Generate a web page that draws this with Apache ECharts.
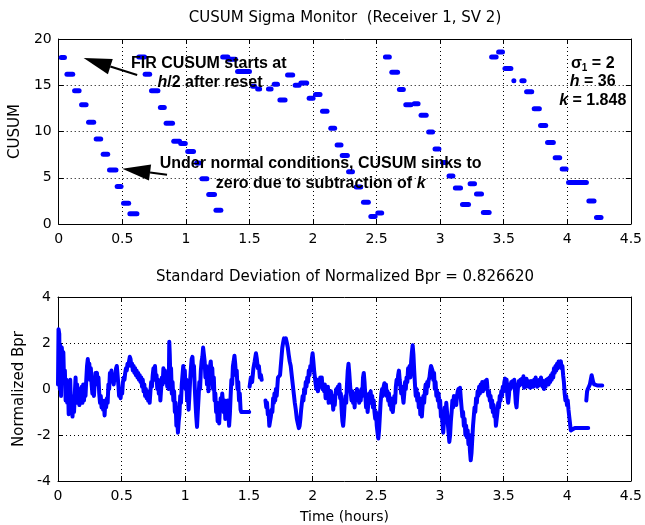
<!DOCTYPE html>
<html><head><meta charset="utf-8">
<script src="https://cdn.jsdelivr.net/npm/echarts@6/dist/echarts.min.js"></script>
<style>html,body{margin:0;padding:0;background:#fff}#c{width:645px;height:525px}</style>
</head><body><div id="c"></div>
<script>
// ---------- data ----------
const xTickValues = [0, 0.5, 1, 1.5, 2, 2.5, 3, 3.5, 4, 4.5];
const cusumTicks = [0, 5, 10, 15, 20];
const bprTicks = [-4, -2, 0, 2, 4];

// CUSUM runs: start time, end time (hours), value
const cusumStart = [0.00,0.045,0.105,0.16,0.215,0.275,0.33,0.38,0.44,0.49,0.54,
  0.61,0.66,0.71,0.78,0.825,0.885,0.94,0.995,1.065,1.107,1.16,1.217,
  1.27,1.314,1.387,1.505,1.545,1.63,1.675,1.72,1.78,1.84,1.885,1.95,2.0,2.055,2.12,2.17,2.21,2.26,2.32,2.377,2.435,2.49,
  2.55,2.60,2.66,2.71,2.776,2.83,2.89,2.94,3.0,3.05,3.10,3.156,3.216,3.266,3.32,
  3.385,3.44,3.49,3.56,3.623,3.66,3.72,3.77,3.825,3.885,3.94,3.99,4.15,4.21];
const cusumEnd = [0.065,0.13,0.18,0.235,0.295,0.35,0.405,0.47,0.51,0.57,0.635,
  0.695,0.735,0.80,0.85,0.915,0.97,1.015,1.08,1.125,1.185,1.245,1.295,
  1.35,1.41,1.52,1.56,1.60,1.69,1.74,1.80,1.86,1.91,1.97,2.02,2.075,2.13,2.19,2.24,2.29,2.33,2.395,2.455,2.508,2.56,
  2.62,2.685,2.73,2.79,2.846,2.91,2.96,3.01,3.065,3.12,3.18,3.243,3.29,3.345,3.405,
  3.46,3.51,3.576,3.575,3.68,3.74,3.80,3.85,3.91,3.96,4.01,4.17,4.23,4.285];
const cusumValue = [18.0,16.2,14.4,12.9,11.0,9.2,7.55,5.85,4.05,2.25,1.1,
  18.05,16.2,14.4,12.6,10.9,8.95,8.7,7.85,6.6,4.9,3.2,1.5,
  18.05,17.8,16.5,14.9,14.6,14.6,15.1,13.4,16.1,15.0,15.25,13.6,14.0,12.2,10.35,8.55,7.4,5.65,4.0,2.35,0.8,1.2,
  18.05,16.4,14.55,12.9,13.0,11.75,9.95,8.1,6.65,5.2,3.9,2.1,4.35,3.24,1.25,
  18.05,18.6,16.8,15.5,15.5,14.3,12.45,10.65,8.8,7.15,5.95,4.5,2.5,0.7];

// Normalized Bpr trace (null = gap)
const bprTime = [
0.000,0.004,0.010,0.014,0.018,0.024,0.030,0.036,0.042,0.048,0.054,0.060,0.066,0.072,0.078,0.084,0.090,0.096,0.102,0.108,
0.114,0.120,0.126,0.132,0.138,0.144,0.150,0.156,0.162,0.168,0.174,0.180,0.186,0.192,0.198,0.204,0.210,0.216,0.222,0.228,
0.234,0.240,0.246,0.252,0.258,0.264,0.270,0.276,0.282,0.288,0.294,0.300,0.306,0.312,0.318,0.324,0.330,0.336,0.342,0.348,
0.354,0.360,0.366,0.372,0.378,0.384,0.390,0.396,0.402,0.408,0.414,0.420,0.426,0.432,0.438,0.444,0.450,0.456,0.462,0.468,
0.474,0.480,0.486,0.492,0.498,0.504,0.510,0.516,0.522,0.528,0.534,0.540,0.546,0.552,0.558,0.564,0.570,0.576,0.582,0.588,
0.594,0.600,0.606,0.612,0.618,0.624,0.630,0.636,0.642,0.648,0.654,0.660,0.666,0.672,0.678,0.684,0.690,0.696,0.702,0.708,
0.714,0.720,0.726,0.732,0.738,0.744,0.750,0.756,0.762,0.768,0.774,0.780,0.786,0.792,0.798,0.804,0.810,0.816,0.822,0.828,
0.834,0.840,0.846,0.852,0.858,0.864,0.870,0.874,0.878,0.882,0.888,0.894,0.900,0.906,0.912,0.918,0.924,0.930,0.936,0.942,
0.948,0.954,0.960,0.966,0.972,0.978,0.984,0.990,0.996,1.002,1.008,1.014,1.020,1.026,1.032,1.038,1.044,1.050,1.056,1.062,
1.068,1.074,1.080,1.086,1.092,1.098,1.104,1.110,1.116,1.122,1.128,1.134,1.140,1.146,1.152,1.158,1.164,1.170,1.176,1.182,
1.188,1.194,1.200,1.206,1.212,1.218,1.224,1.230,1.236,1.242,1.248,1.254,1.260,1.266,1.272,1.278,1.284,1.290,1.296,1.302,
1.308,1.314,1.320,1.326,1.332,1.338,1.344,1.350,1.356,1.362,1.368,1.374,1.380,1.386,1.392,1.398,1.404,1.410,1.416,1.422,
1.428,1.434,1.440,1.460,1.480,1.502,
1.503,1.505,1.515,1.525,1.535,1.545,1.555,1.562,1.570,1.578,1.586,1.594,1.600,
1.615,
1.630,1.636,1.642,1.648,1.654,1.660,1.666,1.672,1.678,1.684,1.690,1.696,1.700,1.706,1.712,1.718,1.728,1.736,1.744,1.750,
1.756,1.762,1.768,1.775,1.782,1.790,1.798,1.805,1.812,1.820,1.828,1.836,1.844,1.852,1.860,1.868,1.876,1.884,1.892,1.898,
1.904,1.910,1.916,1.922,1.928,1.934,1.940,1.946,1.952,1.958,1.964,1.970,1.976,1.982,1.988,1.994,2.000,2.006,2.012,2.018,
2.024,2.030,2.036,2.042,2.048,2.054,2.060,2.066,2.072,2.078,2.084,2.090,2.096,2.102,2.108,2.114,2.120,2.126,2.132,2.138,
2.144,2.150,2.156,2.162,2.168,2.174,2.180,2.186,2.192,2.198,2.204,2.210,2.216,2.222,2.228,2.234,2.240,2.246,2.252,2.258,
2.264,2.270,2.276,2.282,2.288,2.294,2.300,2.306,2.312,2.318,2.324,2.330,2.336,2.342,2.348,2.354,2.360,2.366,2.372,2.378,
2.384,2.390,2.396,2.402,2.408,2.414,2.420,2.426,2.432,2.438,2.444,2.450,2.456,2.462,2.468,2.474,2.480,2.486,2.492,2.498,
2.504,2.510,2.516,2.522,2.528,2.534,2.540,2.546,2.552,2.558,2.564,2.570,2.576,2.582,2.588,2.594,2.600,2.606,2.612,2.618,
2.624,2.630,2.636,2.642,2.648,2.654,2.660,2.666,2.672,2.678,2.684,2.690,2.696,2.702,2.708,2.714,2.720,2.726,2.732,2.738,
2.744,2.750,2.756,2.762,2.768,2.774,2.780,2.786,2.792,2.798,2.804,2.810,2.816,2.822,2.828,2.834,2.840,2.846,2.852,2.858,
2.864,2.870,2.876,2.882,2.888,2.894,2.900,2.906,2.912,2.918,2.924,2.930,2.936,2.942,2.948,2.954,2.960,2.966,2.972,2.978,
2.984,2.990,2.996,3.002,3.008,3.014,3.020,3.026,3.032,3.038,3.044,3.050,3.056,3.062,3.068,3.074,3.080,3.086,3.092,3.098,
3.104,3.110,3.116,3.122,3.128,3.134,3.140,3.146,3.152,3.158,3.164,3.170,3.176,3.182,3.188,3.194,3.200,3.206,3.212,3.218,
3.224,3.230,3.236,3.242,3.248,3.254,3.260,3.266,3.272,3.278,3.284,3.290,3.296,3.302,3.308,3.314,3.320,3.326,3.332,3.338,
3.344,3.350,3.356,3.362,3.368,3.374,3.380,3.386,3.392,3.398,3.404,3.410,3.416,3.422,3.428,3.434,3.440,3.446,3.452,3.458,
3.464,3.470,3.476,3.482,3.488,3.494,3.500,3.506,3.512,3.518,3.524,3.530,3.536,3.542,3.548,3.554,3.560,3.566,3.572,3.578,
3.584,3.590,3.596,3.602,3.608,3.614,3.620,3.626,3.632,3.638,3.644,3.650,3.656,3.662,3.668,3.674,3.680,3.686,3.692,3.698,
3.704,3.710,3.716,3.722,3.728,3.734,3.740,3.746,3.752,3.758,3.764,3.770,3.776,3.782,3.788,3.794,3.800,3.806,3.812,3.818,
3.824,3.830,3.836,3.842,3.848,3.854,3.860,3.866,3.872,3.878,3.884,3.890,3.896,3.902,3.908,3.914,3.920,3.926,3.932,3.938,
3.944,3.950,3.956,3.962,3.968,3.974,3.980,3.986,3.992,3.998,4.004,4.010,4.016,4.022,4.028,4.034,4.060,4.100,4.140,4.165,
4.166,
4.150,4.156,4.162,4.170,4.178,4.186,4.192,4.198,4.204,4.212,4.220,4.240,4.260,4.275];
const bprValue = [
0.2,2.6,2.4,0.0,1.9,-0.3,1.8,1.2,1.6,0.3,0.8,-0.5,0.4,-0.6,0.3,-1.1,-0.2,0.4,-0.8,-0.3,
-1.2,-0.4,-1.0,-0.2,0.5,-0.6,0.2,-0.4,-0.1,-0.7,0.0,-0.3,0.1,-0.6,0.2,-0.5,0.0,-0.3,0.4,1.0,
1.3,0.9,1.1,0.4,0.9,0.2,-0.2,0.3,-0.3,0.2,0.7,0.6,0.7,0.2,0.5,-0.2,-0.6,-0.3,-0.8,-0.5,
-0.9,-0.6,-1.15,-0.5,-0.8,-0.4,-0.6,0.2,0.0,0.7,0.3,0.8,0.5,0.6,0.2,0.6,0.4,0.9,1.0,0.6,
0.2,-0.3,-0.1,-0.4,0.0,-0.2,0.3,0.5,0.4,0.7,0.9,0.8,1.1,1.0,1.2,1.4,1.3,1.0,1.1,0.8,
1.0,0.7,0.9,0.6,0.8,0.5,0.7,0.4,0.6,0.3,0.5,0.1,0.4,-0.1,0.2,-0.3,0.0,-0.4,-0.1,-0.5,
-0.2,-0.6,-0.1,0.3,0.1,0.6,0.9,0.6,1.0,0.4,0.6,0.0,0.4,-0.2,0.3,-0.5,0.0,0.5,0.2,0.9,
0.5,0.8,0.3,0.6,0.1,0.4,0.0,2.05,1.5,0.6,0.9,-0.2,0.3,-0.5,-0.1,-1.0,-0.6,-1.6,-1.2,-1.9,
-1.4,-1.1,-0.3,-0.6,0.2,0.6,1.0,0.5,0.8,0.0,0.4,-0.5,-0.2,-0.9,-0.3,0.4,0.9,1.3,1.4,0.8,
1.0,0.1,-0.6,-1.2,-1.65,-1.0,-0.4,0.3,0.0,0.8,1.2,1.4,1.8,1.5,1.2,0.5,1.0,0.2,0.7,-0.1,
0.4,1.0,1.2,0.6,0.9,0.0,0.5,-0.5,-0.2,-1.0,-0.6,-1.4,-0.8,-1.5,-0.9,-0.4,-0.8,-0.2,-0.6,-1.0,
-0.5,-1.3,-0.7,-1.2,-0.5,-1.0,-1.6,-1.1,-0.3,0.4,0.2,1.0,1.2,1.45,1.1,0.6,0.8,0.0,0.3,-0.5,
-0.2,-0.9,-1.0,-1.0,-1.0,-1.0,
null,0.1,0.5,0.3,0.9,1.2,1.55,1.3,0.9,1.0,0.5,0.6,0.4,
null,
-0.5,-0.8,-0.6,-1.1,-1.0,-1.6,-1.4,-1.2,-0.9,-1.0,-0.4,-0.6,-0.2,-0.5,0.0,-0.3,0.5,0.45,0.6,1.0,
1.4,1.8,2.0,2.2,2.1,2.2,2.0,1.8,1.5,1.2,1.0,0.6,0.2,-0.2,-0.6,-0.9,-1.3,-1.5,-1.7,-1.6,
-1.3,-0.9,-0.6,-0.3,-0.5,0.0,-0.2,0.3,0.1,0.5,0.3,0.8,0.6,1.0,0.8,1.3,1.55,1.2,0.8,0.5,
0.2,0.0,0.4,-0.1,0.3,0.1,0.5,0.2,0.5,0.0,0.2,-0.1,0.2,-0.4,0.0,-0.3,0.1,-0.6,-0.2,-0.5,
-0.1,-0.6,-0.3,-0.9,-0.4,-0.7,-0.2,0.0,-0.2,0.1,-0.1,0.2,-0.4,-0.2,-0.9,-1.4,-1.6,-1.2,-0.6,-0.3,
-0.6,0.2,0.8,1.1,0.7,0.2,-0.2,-0.5,-0.1,-0.6,-0.3,-0.8,-0.2,-0.5,0.0,-0.4,-0.1,-0.6,-0.2,-0.5,
0.0,-0.3,0.5,0.7,0.3,-0.3,-0.8,-0.4,-1.0,-0.6,-0.2,-0.5,-0.1,-0.6,-0.3,-0.8,-0.5,-1.0,-1.3,-1.0,
-1.6,-1.9,-2.15,-1.8,-1.2,-0.6,-0.2,0.0,-0.3,0.1,0.25,-0.1,0.2,-0.3,-0.1,-0.5,-0.2,-0.7,-0.4,-0.9,
-0.5,-1.0,-0.6,-0.3,-0.6,0.1,0.4,0.2,0.6,0.8,0.4,0.1,-0.2,0.1,-0.3,-0.6,-0.2,0.3,0.0,0.5,
0.3,0.9,0.6,1.0,0.5,1.2,1.6,1.9,1.5,0.8,0.2,-0.3,0.0,-0.5,-0.2,-0.8,-0.4,-1.1,-0.6,-1.2,
-0.7,-0.3,-0.6,-0.1,0.2,-0.2,0.3,0.1,0.4,0.5,0.8,1.0,1.05,0.8,0.4,0.7,0.0,0.3,-0.3,-0.1,
-0.5,-0.2,-0.8,-0.5,-1.2,-1.0,-1.5,-1.9,-1.4,-0.8,-1.2,-0.6,-1.0,-1.5,-1.9,-2.3,-2.0,-1.4,-1.0,-0.5,
-0.8,-0.3,-0.6,-0.4,-0.7,-0.3,-0.1,0.0,-0.3,0.05,-0.4,-0.8,-1.2,-1.0,-1.6,-1.3,-2.0,-1.6,-2.1,-1.8,
-2.4,-2.0,-2.7,-3.1,-2.8,-2.2,-1.6,-1.2,-0.8,-1.0,-0.4,-0.6,-0.1,-0.3,0.1,-0.2,0.2,0.0,0.3,-0.1,
0.2,0.0,0.35,0.1,0.4,0.0,-0.3,-0.1,-0.5,-0.3,-0.8,-0.5,-1.0,-0.7,-1.2,-1.0,-1.6,-1.3,-1.0,-0.6,
-0.8,-0.3,-0.5,-0.1,-0.3,0.1,-0.1,0.3,0.45,0.2,0.4,-0.3,-0.6,-0.3,0.2,0.0,0.3,0.1,0.35,0.2,
0.4,-0.1,-0.6,-0.8,-0.3,0.1,0.35,0.15,0.4,0.2,0.45,0.2,0.55,0.05,0.3,0.1,0.45,0.2,0.35,0.1,
0.3,0.05,0.35,0.15,0.3,0.1,0.4,0.2,0.5,0.3,0.1,0.35,0.15,0.4,0.2,0.5,0.3,0.1,0.35,0.0,
0.3,0.1,0.4,0.2,0.45,0.2,0.5,0.3,0.6,0.4,0.7,0.5,0.9,0.7,1.0,0.8,1.1,0.9,1.2,1.25,
1.1,1.2,0.9,1.0,0.6,0.3,-0.2,-0.5,-0.3,-0.7,-0.5,-0.9,-1.2,-1.5,-1.8,-1.75,-1.7,-1.7,-1.7,-1.7,
null,
-0.5,-0.1,0.0,0.1,0.2,0.2,0.6,0.55,0.3,0.2,0.15,0.15,0.15,0.15];

// ---------- chart ----------
const FONT = '"DejaVu Sans", Verdana, sans-serif';
const BFONT = '"Liberation Sans", Arial, Helvetica, sans-serif';
const chart = echarts.init(document.getElementById('c'), null, {renderer: 'canvas'});
const dotted = {show: true, lineStyle: {color: '#000', width: 1, type: [1, 3]}};
const axisLine = {show: true, onZero: false, lineStyle: {color: '#000', width: 1}};
const tickIn = {show: true, inside: true, length: 5, lineStyle: {color: '#000'}};
const lab = {color: '#000', fontFamily: FONT, fontSize: 14};

function xAx(gi, pos, withLabel, name) {
  return {type: 'value', gridIndex: gi, position: pos, min: 0, max: 4.5, interval: 0.5,
    axisLine, axisTick: tickIn, splitLine: withLabel ? dotted : {show: false},
    axisLabel: withLabel ? Object.assign({margin: 8}, lab) : {show: false},
    name: name || '', nameLocation: 'middle', nameGap: 29,
    nameTextStyle: {color: '#000', fontFamily: FONT, fontSize: 14}};
}
function yAx(gi, pos, withLabel, mn, mx, iv, name) {
  return {type: 'value', gridIndex: gi, position: pos, min: mn, max: mx, interval: iv,
    axisLine, axisTick: tickIn, splitLine: withLabel ? dotted : {show: false},
    axisLabel: withLabel ? Object.assign({margin: 7}, lab) : {show: false},
    name: name || '', nameLocation: 'middle', nameGap: 30, nameRotate: 90,
    nameTextStyle: {color: '#000', fontFamily: FONT, fontSize: 15}};
}

const cusumData = cusumStart.map((s, i) => [s, cusumEnd[i], cusumValue[i]]);
const bprData = bprTime.map((t, i) => [t, bprValue[i] === null ? null : bprValue[i]]);

chart.setOption({
  backgroundColor: '#fff',
  animation: false,
  grid: [
    {left: 58, top: 39, width: 574, height: 185, show: false},
    {left: 58, top: 297, width: 574, height: 184, show: false}
  ],
  xAxis: [xAx(0, 'bottom', true), xAx(0, 'top', false), xAx(1, 'bottom', true, 'Time (hours)'), xAx(1, 'top', false)],
  yAxis: [yAx(0, 'left', true, 0, 20, 5, 'CUSUM'), yAx(0, 'right', false, 0, 20, 5),
          yAx(1, 'left', true, -4, 4, 2, 'Normalized Bpr'), yAx(1, 'right', false, -4, 4, 2)],
  series: [
    {type: 'custom', xAxisIndex: 0, yAxisIndex: 0, data: cusumData, encode: {x: [0, 1], y: 2},
      renderItem: function (params, api) {
        const a = api.coord([api.value(0), api.value(2)]);
        const b = api.coord([api.value(1), api.value(2)]);
        const h = 5;
        return {type: 'rect', shape: {x: a[0], y: a[1] - h / 2, width: Math.max(b[0] - a[0], h), height: h, r: h / 2},
          style: {fill: '#0000ff'}};
      }},
    {type: 'line', xAxisIndex: 2, yAxisIndex: 2, data: bprData, showSymbol: false, connectNulls: false,
      lineStyle: {color: '#0000ff', width: 4, join: 'round', cap: 'round'}}
  ]
});

// annotations (positions given in data coordinates of the top plot)
function P(t, v) { return chart.convertToPixel({gridIndex: 0}, [t, v]); }
function arrow(tail, tip) {
  const dx = tip[0] - tail[0], dy = tip[1] - tail[1];
  const L = Math.hypot(dx, dy), ux = dx / L, uy = dy / L;
  const hl = 28, hw = 8;
  const bx = tip[0] - ux * hl, by = tip[1] - uy * hl;
  return [
    {type: 'line', shape: {x1: tail[0], y1: tail[1], x2: bx, y2: by}, style: {stroke: '#000', lineWidth: 2}, z: 10},
    {type: 'polygon', shape: {points: [tip, [bx - uy * hw, by + ux * hw], [bx + uy * hw, by - ux * hw]]},
      style: {fill: '#000'}, z: 10}
  ];
}
const bold = {fontFamily: BFONT, fontSize: 16, fontWeight: 'bold', fill: '#000'};
const a1tail = P(0.617, 16.1), a1tip = P(0.196, 17.94);
const a2tail = P(0.852, 5.32), a2tip = P(0.50, 5.97);
const t1 = P(1.18, 17.3), t1b = P(1.19, 15.3);
const t2 = P(2.06, 6.5), t2b = P(2.06, 4.4);
const box = P(4.20, 18.35);

const richB = {
  n: {fontFamily: BFONT, fontSize: 16, fontWeight: 'bold', color: '#000'},
  i: {fontFamily: BFONT, fontSize: 16, fontWeight: 'bold', fontStyle: 'italic', color: '#000'},
  s: {fontFamily: BFONT, fontSize: 10, fontWeight: 'bold', color: '#000', verticalAlign: 'bottom', padding: [7, 0, 0, 0]}
};

chart.setOption({
  graphic: [
    {type: 'text', x: 345, y: 18, style: {text: 'CUSUM Sigma Monitor  (Receiver 1, SV 2)', fontFamily: FONT, fontSize: 15, fill: '#000', align: 'center', verticalAlign: 'middle'}},
    {type: 'text', x: 345, y: 277, style: {text: 'Standard Deviation of Normalized Bpr = 0.826620', fontFamily: FONT, fontSize: 15, fill: '#000', align: 'center', verticalAlign: 'middle'}},
    ...arrow(a1tail, a1tip),
    ...arrow(a2tail, a2tip),
    {type: 'text', x: t1[0], y: t1[1], z: 11, style: Object.assign({text: 'FIR CUSUM starts at', align: 'center', verticalAlign: 'middle'}, bold)},
    {type: 'text', x: t1b[0], y: t1b[1], z: 11, style: {text: '{i|h}{n|/2 after reset}', rich: richB, align: 'center', verticalAlign: 'middle'}},
    {type: 'text', x: t2[0], y: t2[1], z: 11, style: Object.assign({text: 'Under normal conditions, CUSUM sinks to', align: 'center', verticalAlign: 'middle'}, bold)},
    {type: 'text', x: t2b[0], y: t2b[1], z: 11, style: {text: '{n|zero due to subtraction of }{i|k}', rich: richB, align: 'center', verticalAlign: 'middle'}},
    {type: 'text', x: box[0], y: box[1], z: 11, style: {text: '{n|σ}{s|1}{n| = 2}\n{i|h}{n| = 36}\n{i|k}{n| = 1.848}', rich: richB, align: 'center', verticalAlign: 'top', lineHeight: 18.5}}
  ]
});
</script>
</body></html>
